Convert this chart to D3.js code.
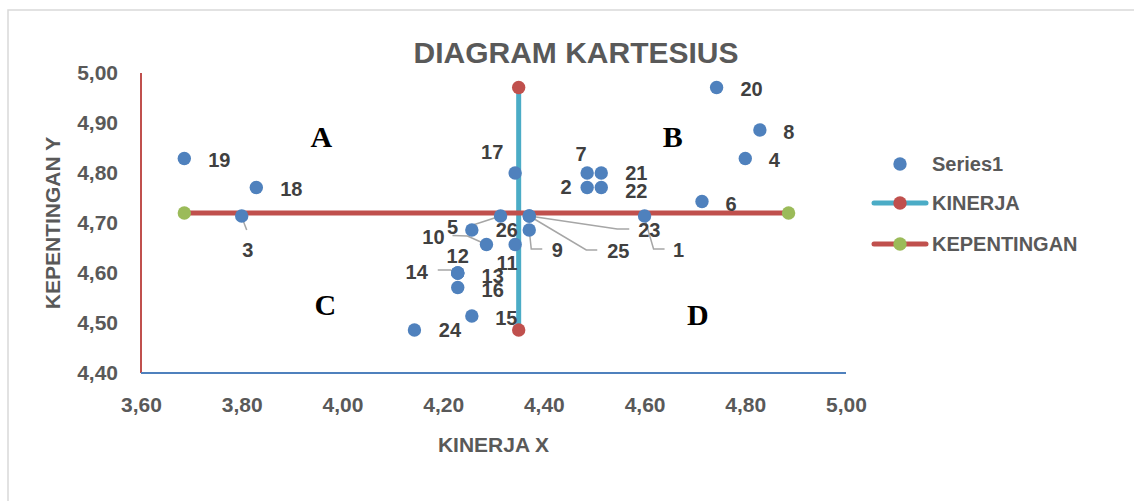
<!DOCTYPE html>
<html><head><meta charset="utf-8">
<script src="https://cdn.jsdelivr.net/npm/d3@7"></script>
<style>body{margin:0;background:#fff;overflow:hidden}</style>
</head><body>
<svg id="c" width="1134" height="501"></svg>
<script>
// ---------- data ----------
const pointIds     = [1,2,3,4,5,6,7,8,9,10,11,12,13,14,15,16,17,18,19,20,21,22,23,24,25,26];
const kinerjaX     = [4.600,4.486,3.800,4.800,4.314,4.714,4.486,4.829,4.371,4.286,4.343,4.229,4.229,4.229,4.257,4.229,4.343,3.829,3.686,4.743,4.514,4.514,4.371,4.143,4.371,4.257];
const kepentinganY = [4.714,4.771,4.714,4.829,4.714,4.743,4.800,4.886,4.686,4.657,4.657,4.600,4.600,4.600,4.514,4.571,4.800,4.771,4.829,4.971,4.800,4.771,4.714,4.486,4.714,4.686];
const kinerjaLineX = [4.35, 4.35];
const kinerjaLineY = [4.971, 4.486];
const kepentinganLineX = [3.686, 4.886];
const kepentinganLineY = [4.72, 4.72];
const xTicks = [3.6,3.8,4.0,4.2,4.4,4.6,4.8,5.0];
const yTicks = [4.4,4.5,4.6,4.7,4.8,4.9,5.0];
const quadrantNames = ["A","B","C","D"];
const quadrantX = [3.958,4.656,3.966,4.706];
const quadrantY = [4.852,4.852,4.516,4.496];
const legendNames = ["Series1","KINERJA","KEPENTINGAN"];

// ---------- label layout (pixel offsets of label centre from its point) ----------
const labelOffsets = {
  1:[34,34],2:[-21,-1],3:[6,34],4:[29,1.5],5:[-48,11],6:[29,2],7:[-6,-19],8:[29,2],
  9:[28,20],10:[-53,-7.5],11:[-8,18.5],12:[0,-17.5],13:[35,3],14:[-41,-1.5],15:[34.5,1.5],
  16:[35,2.5],17:[-23,-21],18:[35,1.5],19:[35,1.5],20:[35,1],21:[35,0],22:[35,3],
  23:[120,14],24:[35.5,0],25:[89,34.5],26:[35,0]
};
const leaderPaths = {
  1:[[0,2],[9,33],[20,33]],
  3:[[0,1],[5,14]],
  5:[[-33,10.7],[0,0]],
  9:[[0,0],[2,19],[13,19]],
  10:[[-34,-9],[-19,-8.5],[0,0]],
  14:[[-20,-3],[-7,-3],[0,0]],
  23:[[0,0],[88,13],[100,13]],
  25:[[0,0],[57,34],[68,34]]
};

const BLUE="#4f81bd", RED="#c0504d", GREEN="#9bbb59", CYAN="#4bacc6";
const FONT="'Liberation Sans', Arial, sans-serif";
const svg = d3.select("#c");

// chart border
svg.append("rect").attr("x",8).attr("y",10).attr("width",1140).attr("height",500)
  .attr("fill","#fff").attr("stroke","#d9d9d9").attr("stroke-width",1.5);

const x = d3.scaleLinear().domain([3.6,5.0]).range([141,846]);
const y = d3.scaleLinear().domain([4.4,5.0]).range([373,73]);
const fmt = v => d3.format(".2f")(v).replace(".", ",");

// title
svg.append("text").attr("x",576).attr("y",63).attr("text-anchor","middle")
  .attr("font-family",FONT).attr("font-weight","bold").attr("font-size",30)
  .attr("fill","#595959").text("DIAGRAM KARTESIUS");

// axes
const gx = svg.append("g").attr("transform","translate(0,373)")
  .call(d3.axisBottom(x).tickValues(xTicks).tickSize(0).tickFormat(fmt));
gx.select(".domain").remove();
gx.selectAll("text").attr("y",32).attr("dy","0.35em")
  .attr("font-family",FONT).attr("font-weight","bold").attr("font-size",21).attr("fill","#595959");

const gy = svg.append("g").attr("transform","translate(141,0)")
  .call(d3.axisLeft(y).tickValues(yTicks).tickSize(0).tickPadding(23).tickFormat(fmt));
gy.select(".domain").remove();
gy.selectAll("text").attr("font-family",FONT).attr("font-weight","bold")
  .attr("font-size",21).attr("fill","#595959");

// axis lines
svg.append("line").attr("x1",x(3.6)).attr("x2",x(3.6)).attr("y1",y(5.0)).attr("y2",y(4.4))
  .attr("stroke",RED).attr("stroke-width",2);
svg.append("line").attr("x1",x(3.6)).attr("x2",x(5.0)).attr("y1",y(4.4)).attr("y2",y(4.4))
  .attr("stroke",BLUE).attr("stroke-width",2);

// axis titles
svg.append("text").attr("x",(x(3.6)+x(5.0))/2).attr("y",445).attr("dy","0.35em")
  .attr("text-anchor","middle").attr("font-family",FONT).attr("font-weight","bold")
  .attr("font-size",21).attr("fill","#595959").text("KINERJA X");
svg.append("text").attr("transform",`translate(53,${(y(4.4)+y(5.0))/2}) rotate(-90)`)
  .attr("dy","0.35em").attr("text-anchor","middle").attr("font-family",FONT)
  .attr("font-weight","bold").attr("font-size",21).attr("fill","#595959").text("KEPENTINGAN Y");

// quadrant letters
quadrantNames.forEach((q,i)=>{
  svg.append("text").attr("x",x(quadrantX[i])).attr("y",y(quadrantY[i]))
    .attr("text-anchor","middle").attr("font-family","'Liberation Serif','Times New Roman',serif")
    .attr("font-weight","bold").attr("font-size",30).attr("fill","#000").text(q);
});

// mean lines
const line = d3.line().x(d=>x(d[0])).y(d=>y(d[1]));
const kinPts = kinerjaLineX.map((v,i)=>[v,kinerjaLineY[i]]);
const kepPts = kepentinganLineX.map((v,i)=>[v,kepentinganLineY[i]]);
svg.append("path").attr("d",line(kinPts)).attr("stroke",CYAN).attr("stroke-width",5).attr("fill","none");
svg.append("path").attr("d",line(kepPts)).attr("stroke",RED).attr("stroke-width",5).attr("fill","none");
svg.selectAll(".kinDot").data(kinPts).join("circle").attr("cx",d=>x(d[0])).attr("cy",d=>y(d[1]))
  .attr("r",6.7).attr("fill",RED);
svg.selectAll(".kepDot").data(kepPts).join("circle").attr("cx",d=>x(d[0])).attr("cy",d=>y(d[1]))
  .attr("r",6.7).attr("fill",GREEN);

// points
const pts = pointIds.map((id,i)=>({id, vx:kinerjaX[i], vy:kepentinganY[i]}));
// leader lines
pts.filter(p=>leaderPaths[p.id]).forEach(p=>{
  const px=x(p.vx), py=y(p.vy);
  svg.append("polyline").attr("points",leaderPaths[p.id].map(d=>[px+d[0],py+d[1]].join(",")).join(" "))
    .attr("fill","none").attr("stroke","#a6a6a6").attr("stroke-width",1.5);
});
svg.selectAll(".pt").data(pts).join("circle").attr("class","pt")
  .attr("cx",d=>x(d.vx)).attr("cy",d=>y(d.vy)).attr("r",6.7).attr("fill",BLUE);
svg.selectAll(".lbl").data(pts).join("text").attr("class","lbl")
  .attr("x",d=>x(d.vx)+labelOffsets[d.id][0]).attr("y",d=>y(d.vy)+labelOffsets[d.id][1])
  .attr("dy","0.35em").attr("text-anchor","middle").attr("font-family",FONT)
  .attr("font-weight","bold").attr("font-size",20).attr("fill","#404040").text(d=>d.id);

// legend
const lg = svg.append("g");
const legY = [164,203,244];
lg.append("circle").attr("cx",900).attr("cy",legY[0]).attr("r",6.7).attr("fill",BLUE);
lg.append("line").attr("x1",874).attr("x2",926).attr("y1",legY[1]).attr("y2",legY[1])
  .attr("stroke",CYAN).attr("stroke-width",5).attr("stroke-linecap","round");
lg.append("circle").attr("cx",900).attr("cy",legY[1]).attr("r",6.7).attr("fill",RED);
lg.append("line").attr("x1",874).attr("x2",926).attr("y1",legY[2]).attr("y2",legY[2])
  .attr("stroke",RED).attr("stroke-width",5).attr("stroke-linecap","round");
lg.append("circle").attr("cx",900).attr("cy",legY[2]).attr("r",6.7).attr("fill",GREEN);
legendNames.forEach((n,i)=>{
  lg.append("text").attr("x",932).attr("y",legY[i]).attr("dy","0.35em")
    .attr("font-family",FONT).attr("font-weight","bold").attr("font-size",20)
    .attr("fill","#595959").text(n);
});
</script>
</body></html>
